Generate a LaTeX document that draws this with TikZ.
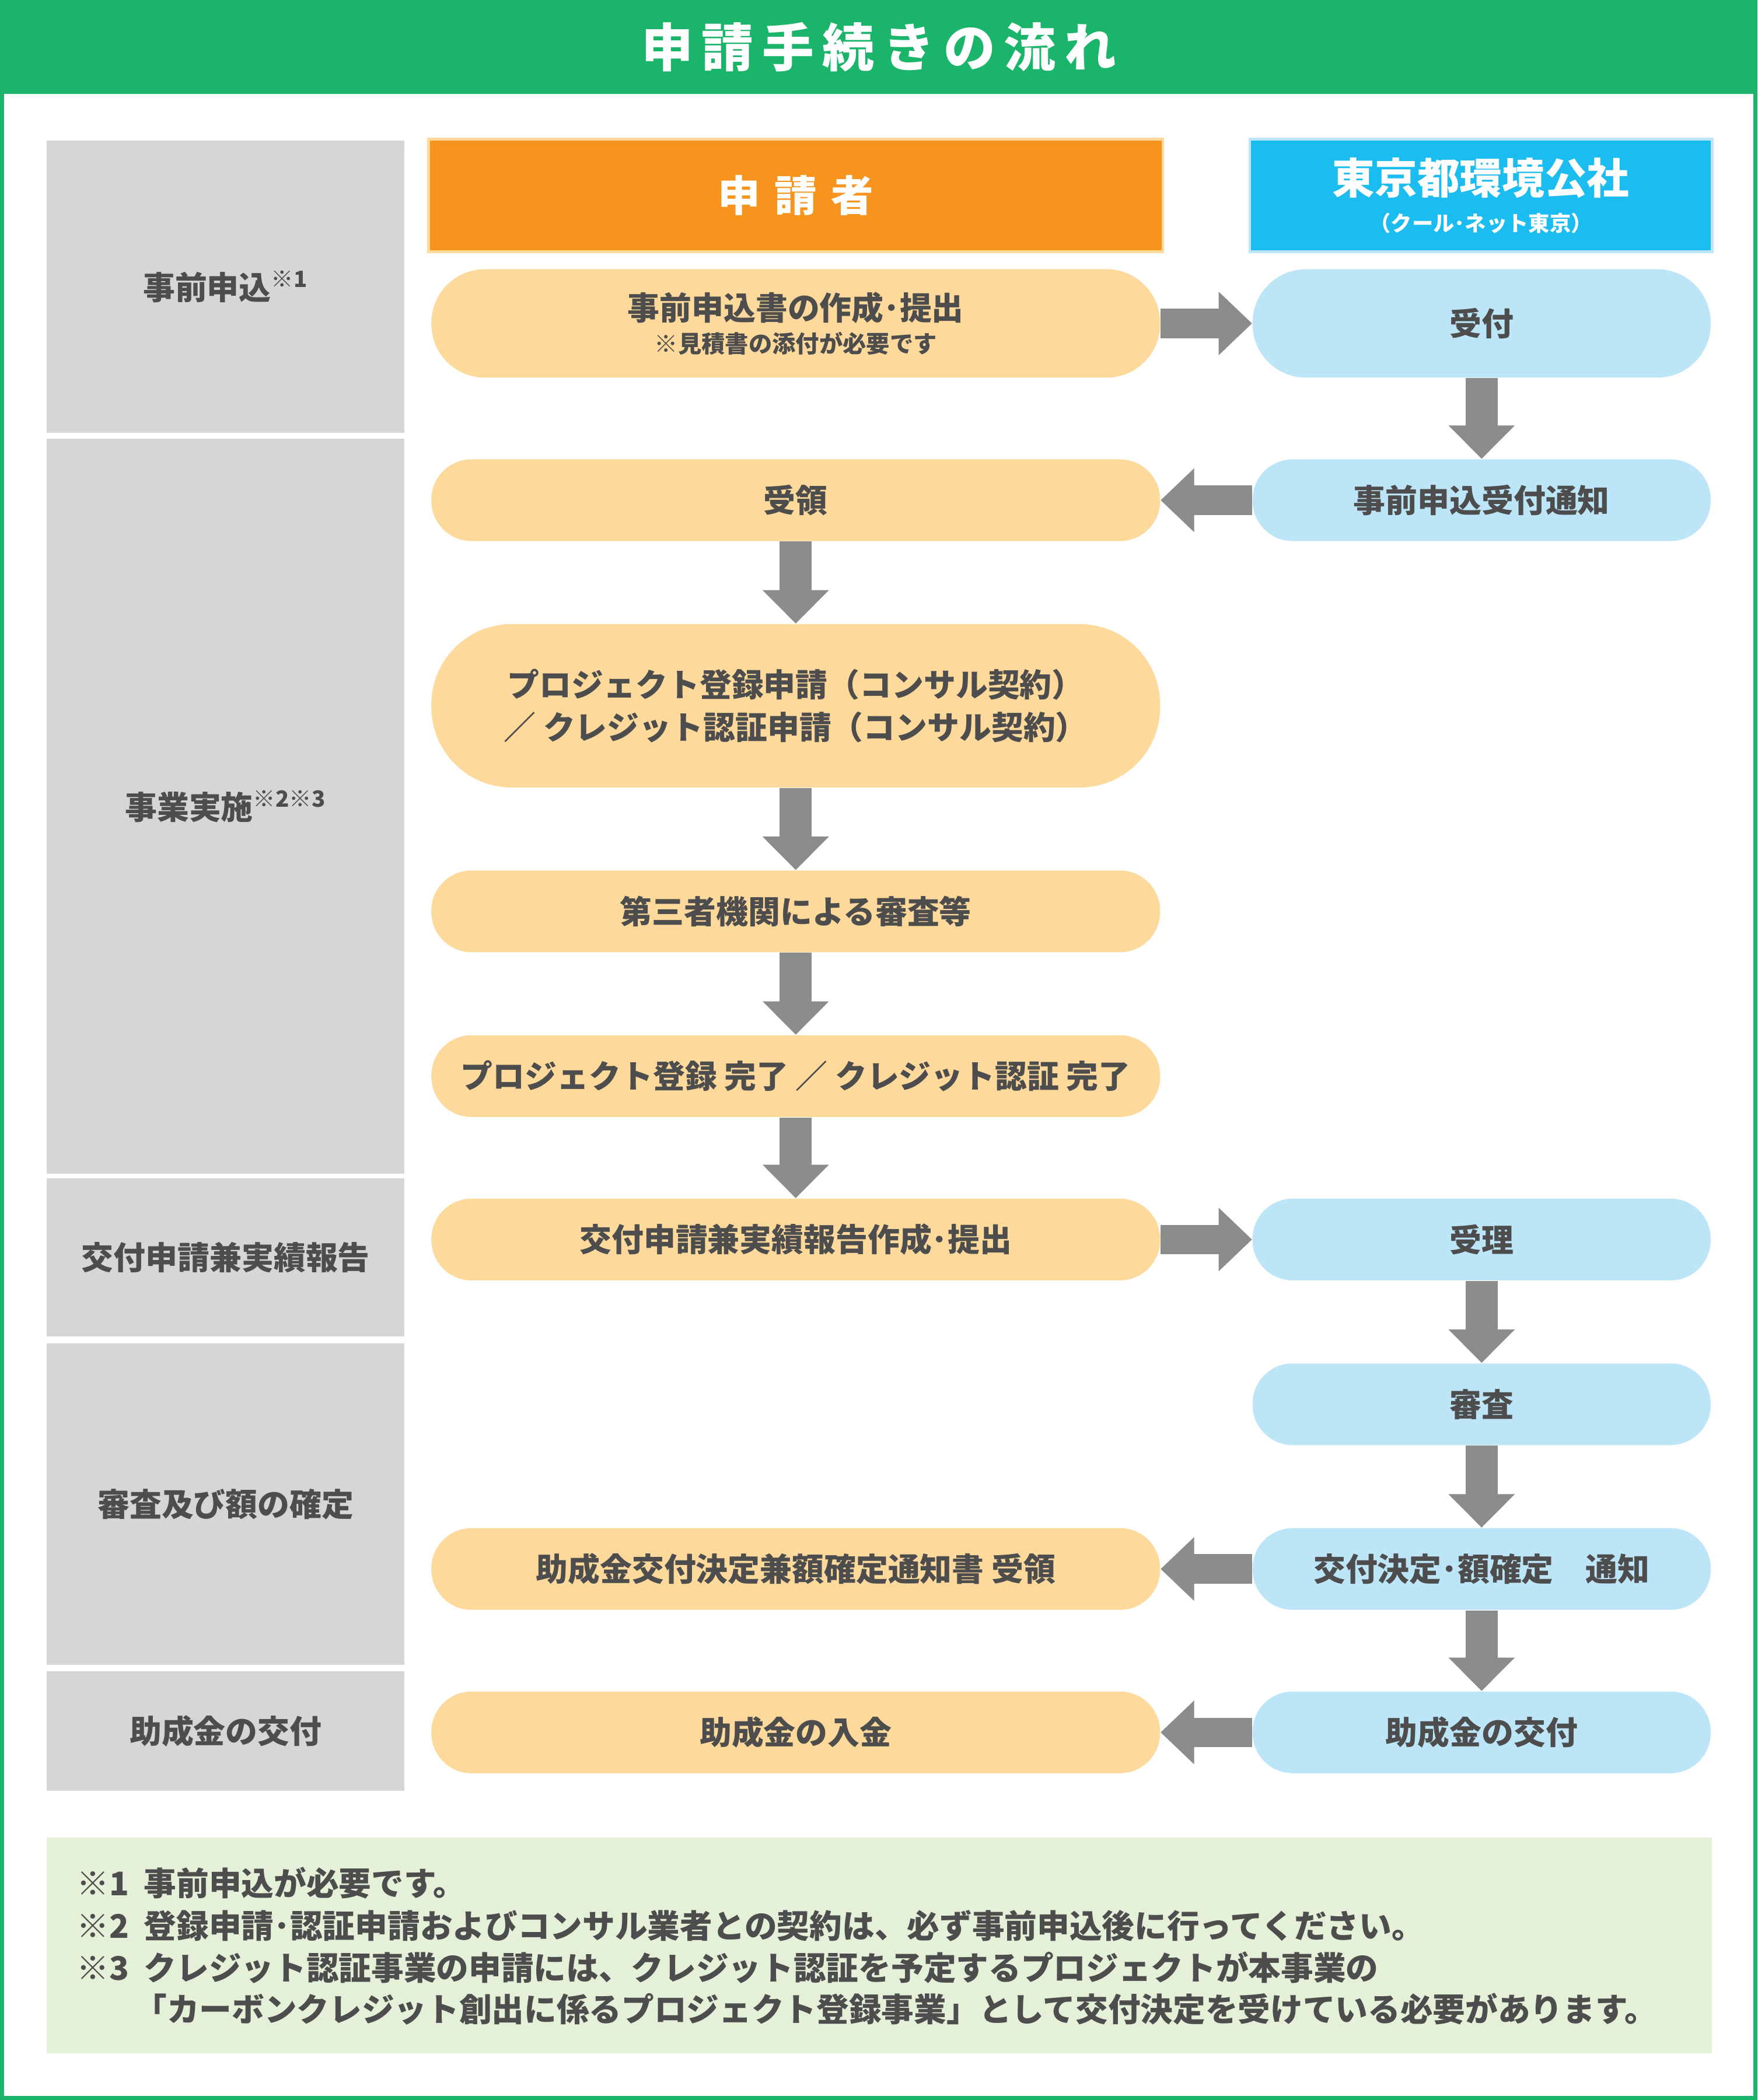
\documentclass[tikz,border=0pt]{standalone}
\usepackage{fontspec}
\setmainfont{Noto Sans CJK JP}
\usetikzlibrary{arrows.meta}
\definecolor{tgreen}{HTML}{1AB46A}
\definecolor{lgray}{HTML}{D6D6D6}
\definecolor{horange}{HTML}{F7941D}
\definecolor{hcyan}{HTML}{1BBCEF}
\definecolor{porange}{HTML}{FDD99B}
\definecolor{pblue}{HTML}{BDE5F8}
\definecolor{agray}{HTML}{8C8C8C}
\definecolor{txt}{HTML}{4D4D4D}
\definecolor{fgreen}{HTML}{E4F0D8}
\tikzset{
 lab/.style={fill=lgray,minimum width=5.34cm,inner sep=0,text=txt,font=\fontsize{13.6}{16}\selectfont\bfseries},
 op/.style={fill=porange,minimum width=10.88cm,minimum height=1.22cm,rounded corners=0.6cm,inner sep=0,text=txt,font=\fontsize{13.6}{16}\selectfont\bfseries,align=center},
 bp/.style={op,fill=pblue,minimum width=6.84cm},
 va/.style={draw=agray,line width=0.48cm,-{Triangle[width=0.96cm,length=0.5cm]}},
 ha/.style={draw=agray,line width=0.44cm,-{Triangle[width=0.92cm,length=0.5cm]}},
 fn/.style={anchor=west,inner sep=0,text=txt,font=\fontsize{13.8}{16}\selectfont\bfseries}
}
\begin{document}
\begin{tikzpicture}
\useasboundingbox (0,0) rectangle (26.24,-31.36);
\fill[white] (0,0) rectangle (26.24,-31.36);
\draw[tgreen,line width=0.06cm] (0.03,-0.03) rectangle (26.21,-31.33);
\fill[tgreen] (0,0) rectangle (26.24,-1.4);
\node[text=white,font=\fontsize{22}{24}\selectfont\bfseries] (title) at (13.12,-0.7) {申\,請\,手\,続\,き\,の\,流\,れ};
% left labels
\node[lab,minimum height=4.36cm] (l1) at (3.37,-4.28) {事前申込\textsuperscript{※1}};
\node[lab,minimum height=10.98cm] (l2) at (3.37,-12.04) {事業実施\textsuperscript{※2※3}};
\node[lab,minimum height=2.36cm] (l3) at (3.37,-18.78) {交付申請兼実績報告};
\node[lab,minimum height=4.8cm] (l4) at (3.37,-22.46) {審査及び額の確定};
\node[lab,minimum height=1.78cm] (l5) at (3.37,-25.85) {助成金の交付};
% headers
\node[fill=horange,draw=porange,line width=0.04cm,minimum width=10.96cm,minimum height=1.68cm,inner sep=0,text=white,font=\fontsize{18}{20}\selectfont\bfseries] (h1) at (11.88,-2.92) {申\,\,請\,\,者};
\node[fill=hcyan,draw=pblue,line width=0.04cm,minimum width=6.9cm,minimum height=1.68cm,inner sep=0,text=white,align=center,font=\fontsize{18}{20}\selectfont\bfseries] (h2) at (22.11,-2.92) {東京都環境公社\\[-4pt]{\fontsize{9}{10}\selectfont（クール･ネット東京）}};
% orange
\node[op,minimum height=1.62cm,rounded corners=0.8cm] (o1) at (11.88,-4.83) {事前申込書の作成･提出\\[-2pt]{\fontsize{10}{12}\selectfont ※見積書の添付が必要です}};
\node[op] (o2) at (11.88,-7.47) {受領};
\node[op,minimum height=2.44cm,rounded corners=1.2cm] (o3) at (11.88,-10.54) {プロジェクト登録申請（コンサル契約）\\[2pt]／ クレジット認証申請（コンサル契約）};
\node[op] (o4) at (11.88,-13.61) {第三者機関による審査等};
\node[op] (o5) at (11.88,-16.07) {プロジェクト登録 完了 ／ クレジット認証 完了};
\node[op] (o6) at (11.88,-18.51) {交付申請兼実績報告作成･提出};
\node[op] (o7) at (11.88,-23.43) {助成金交付決定兼額確定通知書 受領};
\node[op] (o8) at (11.88,-25.87) {助成金の入金};
% blue
\node[bp,minimum height=1.62cm,rounded corners=0.8cm] (b1) at (22.12,-4.83) {受付};
\node[bp] (b2) at (22.12,-7.47) {事前申込受付通知};
\node[bp] (b3) at (22.12,-18.51) {受理};
\node[bp] (b4) at (22.12,-20.97) {審査};
\node[bp] (b5) at (22.12,-23.43) {交付決定･額確定　通知};
\node[bp] (b6) at (22.12,-25.87) {助成金の交付};
% arrows
\draw[va] (o2.south) -- (o3.north);
\draw[va] (o3.south) -- (o4.north);
\draw[va] (o4.south) -- (o5.north);
\draw[va] (o5.south) -- (o6.north);
\draw[va] (b1.south) -- (b2.north);
\draw[va] (b3.south) -- (b4.north);
\draw[va] (b4.south) -- (b5.north);
\draw[va] (b5.south) -- (b6.north);
\draw[ha] (o1.east) -- (b1.west);
\draw[ha] (o6.east) -- (b3.west);
\draw[ha] (b2.west) -- (o2.east);
\draw[ha] (b5.west) -- (o7.east);
\draw[ha] (b6.west) -- (o8.east);
% footnotes
\fill[fgreen] (0.7,-27.44) rectangle (25.56,-30.66);
\node[fn] (f1) at (1.14,-28.12) {※1\ \ 事前申込が必要です。};
\node[fn] (f2) at (1.14,-28.76) {※2\ \ 登録申請･認証申請およびコンサル業者との契約は、必ず事前申込後に行ってください。};
\node[fn] (f3) at (1.14,-29.38) {※3\ \ クレジット認証事業の申請には、クレジット認証を予定するプロジェクトが本事業の};
\node[fn] (f4) at (2.0,-30.0) {「カーボンクレジット創出に係るプロジェクト登録事業」として交付決定を受けている必要があります。};
\end{tikzpicture}
\end{document}
